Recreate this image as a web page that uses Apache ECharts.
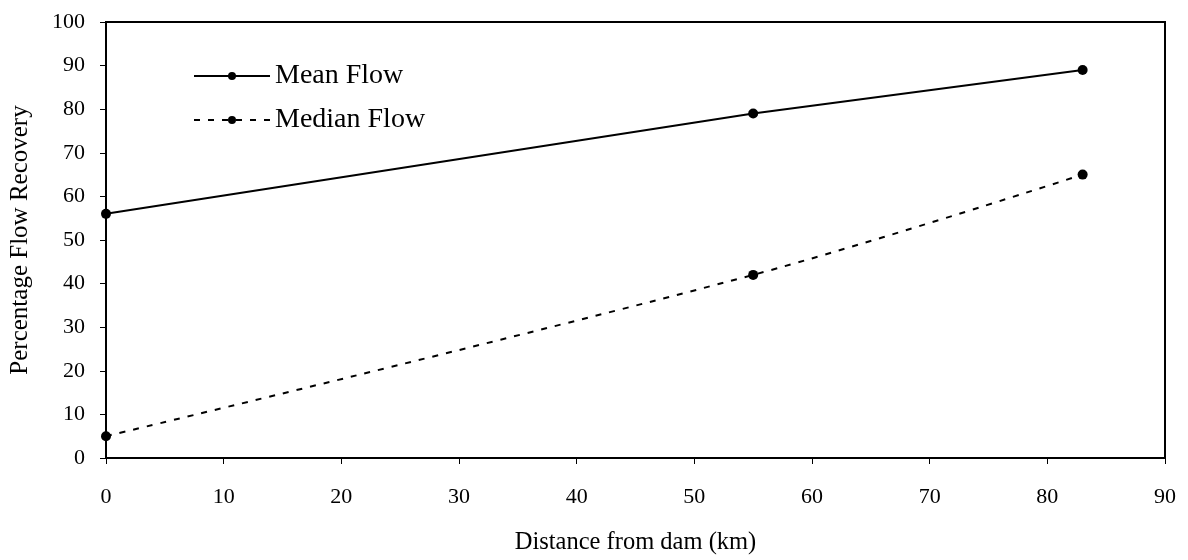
<!DOCTYPE html>
<html><head><meta charset="utf-8">
<script src="https://cdn.jsdelivr.net/npm/echarts@6/dist/echarts.min.js"></script>
<style>html,body{margin:0;padding:0;background:#fff}#c{width:1188px;height:560px}</style>
</head><body><div id="c"></div>
<script>
const distances = [0, 55, 83];
const meanFlow = [56, 79, 89];
const medianFlow = [5, 42, 65];
const seriesNames = ['Mean Flow', 'Median Flow'];
const xTitle = 'Distance from dam (km)';
const yTitle = 'Percentage Flow Recovery';
const font = '"Liberation Serif", "Times New Roman", serif';

const chart = echarts.init(document.getElementById('c'));
chart.setOption({
  animation: false,
  backgroundColor: '#fff',
  grid: {left: 103, right: 23, top: 22, bottom: 97, show: true, borderColor: '#000', borderWidth: 2},
  legend: {
    left: 188, top: 57, orient: 'vertical', itemGap: 16, itemWidth: 76, itemHeight: 10,
    textStyle: {fontFamily: font, fontSize: 28, color: '#000'},
    data: seriesNames
  },
  xAxis: {
    type: 'value', min: 0, max: 90, interval: 10,
    name: xTitle, nameLocation: 'middle', nameGap: 72,
    nameTextStyle: {fontFamily: font, fontSize: 24.5, color: '#000'},
    axisLine: {lineStyle: {color: '#000', width: 2}},
    axisTick: {show: true, length: 6, lineStyle: {color: '#000'}},
    axisLabel: {fontFamily: font, fontSize: 22, color: '#000', margin: 28},
    splitLine: {show: false}
  },
  yAxis: {
    type: 'value', min: 0, max: 100, interval: 10,
    name: yTitle, nameLocation: 'middle', nameGap: 73,
    nameTextStyle: {fontFamily: font, fontSize: 25, color: '#000'},
    axisLine: {show: true, lineStyle: {color: '#000', width: 2}},
    axisTick: {show: true, length: 6, lineStyle: {color: '#000'}},
    axisLabel: {fontFamily: font, fontSize: 22, color: '#000', margin: 21},
    splitLine: {show: false}
  },
  series: [
    {name: seriesNames[0], type: 'line', data: distances.map((d,i)=>[d, meanFlow[i]]),
     symbol: 'circle', symbolSize: 10, itemStyle: {color: '#000'},
     lineStyle: {color: '#000', width: 2, type: 'solid'}},
    {name: seriesNames[1], type: 'line', data: distances.map((d,i)=>[d, medianFlow[i]]),
     smooth: 0.35,
     symbol: 'circle', symbolSize: 10, itemStyle: {color: '#000'},
     lineStyle: {color: '#000', width: 2, type: [6, 8]}}
  ]
});
</script></body></html>
